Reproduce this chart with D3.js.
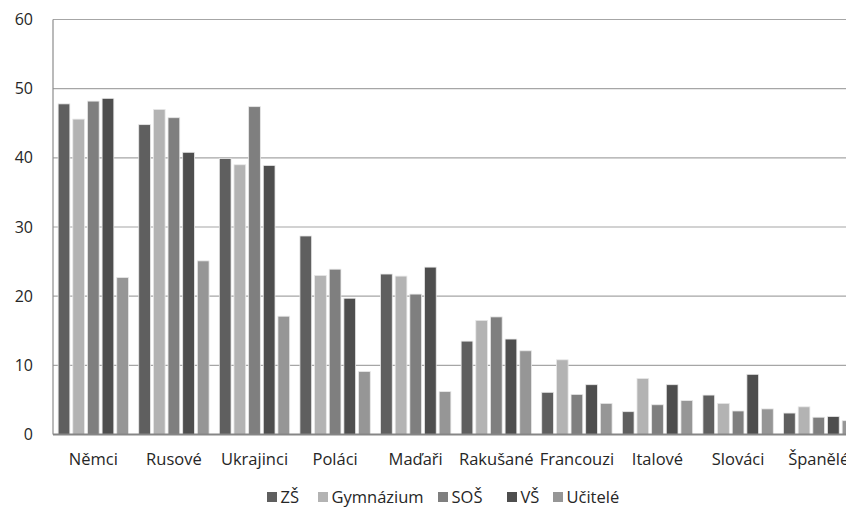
<!DOCTYPE html>
<html>
<head>
<meta charset="utf-8">
<script src="https://cdn.jsdelivr.net/npm/d3@7"></script>
<style>
  body { margin: 0; background: #fff; overflow: hidden; }
  text { font-family: "Open Sans", sans-serif; fill: #262626; }
</style>
</head>
<body>
<script>
// categories and series
const categories = ["Němci", "Rusové", "Ukrajinci", "Poláci", "Maďaři", "Rakušané", "Francouzi", "Italové", "Slováci", "Španělé"];
const seriesNames = ["ZŠ", "Gymnázium", "SOŠ", "VŠ", "Učitelé"];
const colors = ["#5f5f5f", "#b3b3b3", "#7f7f7f", "#4e4e4e", "#969696"];

const zs        = [47.8, 44.8, 39.9, 28.7, 23.2, 13.5, 6.1, 3.3, 5.7, 3.1];
const gymnazium = [45.6, 47.0, 39.0, 23.0, 22.9, 16.5, 10.8, 8.1, 4.5, 4.0];
const sos       = [48.2, 45.8, 47.4, 23.9, 20.3, 17.0, 5.8, 4.3, 3.4, 2.5];
const vs        = [48.6, 40.8, 38.9, 19.7, 24.2, 13.8, 7.2, 7.2, 8.7, 2.6];
const ucitele   = [22.7, 25.1, 17.1, 9.1, 6.2, 12.1, 4.5, 4.9, 3.7, 2.0];
const yTicks = [0, 10, 20, 30, 40, 50, 60];

const series = [zs, gymnazium, sos, vs, ucitele];

var margin = { top: 19.5, left: 53 },
  plotW = 806,
  plotH = 415;

var svg = d3.select("body").append("svg")
  .attr("width", 846)
  .attr("height", 509);

var x = d3.scaleBand().domain(categories).range([margin.left, margin.left + plotW]).paddingInner(0).paddingOuter(0);
var xs = d3.scaleBand().domain(d3.range(seriesNames.length)).range([0, x.bandwidth()]).paddingInner(0.2).paddingOuter(0.35);
var y = d3.scaleLinear().domain([0, 60]).range([margin.top + plotH, margin.top]);

// gridlines
svg.append("g").selectAll("line")
  .data(yTicks.filter(d => d > 0))
  .enter().append("line")
  .attr("x1", margin.left).attr("x2", margin.left + plotW)
  .attr("y1", d => y(d)).attr("y2", d => y(d))
  .attr("stroke", "#a6a6a6").attr("stroke-width", 1.2);

// bars
categories.forEach((c, ci) => {
  svg.append("g").selectAll("rect")
    .data(series.map((s, si) => ({ si: si, v: s[ci] })))
    .enter().append("rect")
    .attr("x", d => x(c) + xs(d.si))
    .attr("width", xs.bandwidth())
    .attr("y", d => y(d.v))
    .attr("height", d => y(0) - y(d.v))
    .attr("fill", d => colors[d.si])
    .attr("stroke", "#e8e8e8").attr("stroke-width", 0.8);
});

// axes lines
svg.append("line")
  .attr("x1", margin.left).attr("x2", margin.left)
  .attr("y1", y(60)).attr("y2", y(0))
  .attr("stroke", "#8c8c8c").attr("stroke-width", 1.2);
svg.append("line")
  .attr("x1", margin.left).attr("x2", margin.left + plotW)
  .attr("y1", y(0)).attr("y2", y(0))
  .attr("stroke", "#868686").attr("stroke-width", 2);

// y labels
svg.append("g").selectAll("text")
  .data(yTicks)
  .enter().append("text")
  .attr("x", 33).attr("y", d => y(d) + 5.5)
  .attr("text-anchor", "end")
  .attr("font-size", 16)
  .text(d => d);

// x labels
svg.append("g").selectAll("text")
  .data(categories)
  .enter().append("text")
  .attr("x", d => x(d) + x.bandwidth() / 2)
  .attr("y", 465)
  .attr("text-anchor", "middle")
  .attr("font-size", 16.5)
  .text(d => d);

// legend
var legendX = [267, 318, 438, 507, 553];
var lg = svg.append("g").selectAll("g")
  .data(seriesNames)
  .enter().append("g")
  .attr("transform", (d, i) => "translate(" + legendX[i] + ",492)");
lg.append("rect").attr("width", 10).attr("height", 10).attr("fill", (d, i) => colors[i]);
lg.append("text").attr("x", 13.5).attr("y", 10.5).attr("font-size", 16.5).text(d => d);
</script>
</body>
</html>
